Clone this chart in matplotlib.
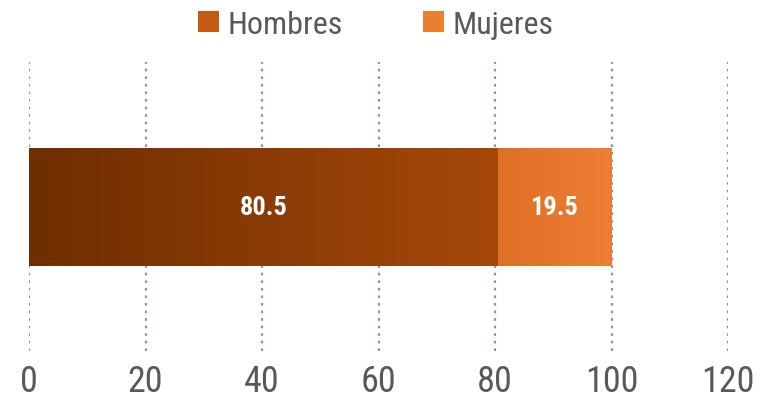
import matplotlib
matplotlib.use("Agg")
import matplotlib.pyplot as plt
import numpy as np
from matplotlib import font_manager
from matplotlib.colors import LinearSegmentedColormap
from matplotlib.patches import Patch

_names = {f.name for f in font_manager.fontManager.ttflist}
_cands = ['Liberation Sans Narrow', 'Arial Narrow', 'Roboto Condensed', 'Archivo Narrow',
          'PT Sans Narrow', 'Pragati Narrow']
_font = [c for c in _cands if c in _names][:1]
plt.rcParams['font.family'] = _font + ['Liberation Sans', 'DejaVu Sans']

categories = [""]
series_names = ["Hombres", "Mujeres"]
hombres = [80.5]
mujeres = [19.5]
xticks = [0, 20, 40, 60, 80, 100, 120]

legend_colors = ["#C55A11", "#ED7D31"]
gradients = [("#6E2E00", "#A6480A"), ("#DF6F25", "#EE7E33")]

fig = plt.figure(figsize=(7.79, 4.02), dpi=100)
ax = fig.add_axes([29/779, 1-352/402, (728-29)/779, (352-63)/402])

left = np.zeros(len(categories))
for vals, (c0, c1), name in zip([hombres, mujeres], gradients, series_names):
    vals = np.array(vals)
    bars = ax.barh(np.arange(len(categories)), vals, left=left, height=0.41,
                   color=c1, edgecolor='none', zorder=2)
    cmap = LinearSegmentedColormap.from_list(name, [c0, c1])
    for b, v in zip(bars, vals):
        x0, y0 = b.get_x(), b.get_y()
        w, h = b.get_width(), b.get_height()
        im = ax.imshow(np.linspace(0, 1, 256).reshape(1, -1), cmap=cmap, aspect='auto',
                       extent=[x0, x0 + w, y0, y0 + h], zorder=3, interpolation='bicubic')
        im.set_clip_path(b)
        ax.text(x0 + w / 2, y0 + h / 2, f"{v:.1f}", ha='center', va='center',
                color='white', fontsize=19, fontweight='bold', zorder=4)
    left = left + vals

ax.set_xlim(0, 120)
ax.set_ylim(-0.498, 0.502)
ax.set_xticks(xticks)
ax.set_xticklabels([str(t) for t in xticks], fontsize=26, color='#595959')
ax.set_yticks([])
ax.tick_params(axis='x', length=0, pad=9)
for s in ax.spines.values():
    s.set_visible(False)
ax.grid(axis='x', color='#8497B0', linestyle=(0, (1.2, 2.2)), linewidth=1.6, zorder=1)
ax.set_axisbelow(True)

handles = [Patch(facecolor=c, edgecolor='none') for c in legend_colors]
fig.legend(handles, series_names, loc='center', bbox_to_anchor=(376/779, 1-25/402),
           ncol=2, frameon=False, fontsize=23, labelcolor='#595959',
           handlelength=0.65, handleheight=0.65, handletextpad=0.28, columnspacing=2.5)

fig.savefig("out.png", dpi=100)
